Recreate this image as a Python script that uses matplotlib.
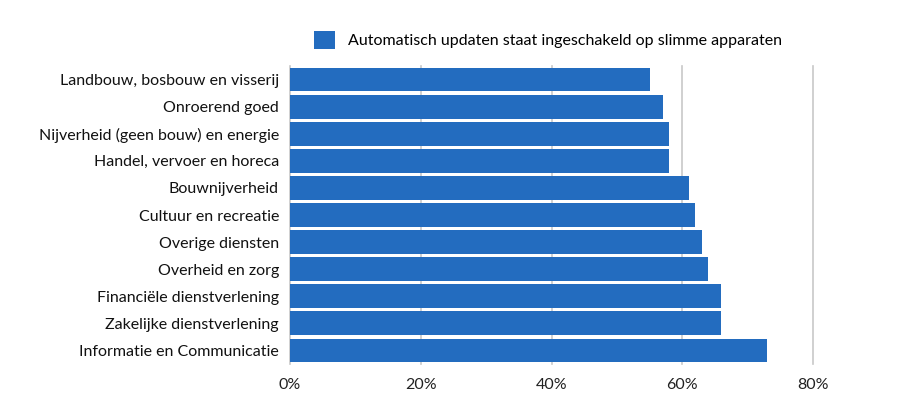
import matplotlib
matplotlib.use("Agg")
import matplotlib.pyplot as plt
from matplotlib.ticker import FuncFormatter

plt.rcParams['font.family'] = ['Lato', 'DejaVu Sans']

# sectors, top to bottom
sectors = ["Landbouw, bosbouw en visserij", "Onroerend goed",
           "Nijverheid (geen bouw) en energie", "Handel, vervoer en horeca",
           "Bouwnijverheid", "Cultuur en recreatie", "Overige diensten",
           "Overheid en zorg", "Financiële dienstverlening",
           "Zakelijke dienstverlening", "Informatie en Communicatie"]
values = [55, 57, 58, 58, 61, 62, 63, 64, 66, 66, 73]
series_name = "Automatisch updaten staat ingeschakeld op slimme apparaten"
xticks = [0, 20, 40, 60, 80]

fig = plt.figure(figsize=(9.05, 4.19), dpi=100)
ax = fig.add_axes([290/905, 1 - 364/419, (813 - 290)/905, (364 - 66)/419])

y = list(range(len(sectors)))
ax.barh(y, values, height=0.88, color="#236cbf", label=series_name, zorder=2)
ax.set_ylim(len(sectors) - 0.5, -0.5)
ax.set_yticks(y)
ax.set_yticklabels(sectors, fontsize=11.5, color="#111111")
ax.set_xlim(0, 80)
ax.set_xticks(xticks)
ax.xaxis.set_major_formatter(FuncFormatter(lambda v, p: f"{int(v)}%"))
ax.tick_params(axis="x", labelsize=11.5, colors="#222222", length=0, pad=10)
ax.tick_params(axis="y", length=0, pad=8)
for gl in ax.xaxis.get_gridlines():
    gl.set_clip_on(False)
ax.grid(axis="x", color="#c8c8c8", linewidth=1.2, zorder=0)
for gl in ax.xaxis.get_gridlines():
    gl.set_clip_on(False)
for s in ax.spines.values():
    s.set_visible(False)

fig.legend(loc="center", bbox_to_anchor=(548/905, 1 - 40/419), frameon=False,
           fontsize=11.5, handlelength=1.3, handleheight=1.3, handletextpad=0.8)

fig.savefig("out.png", dpi=100)
